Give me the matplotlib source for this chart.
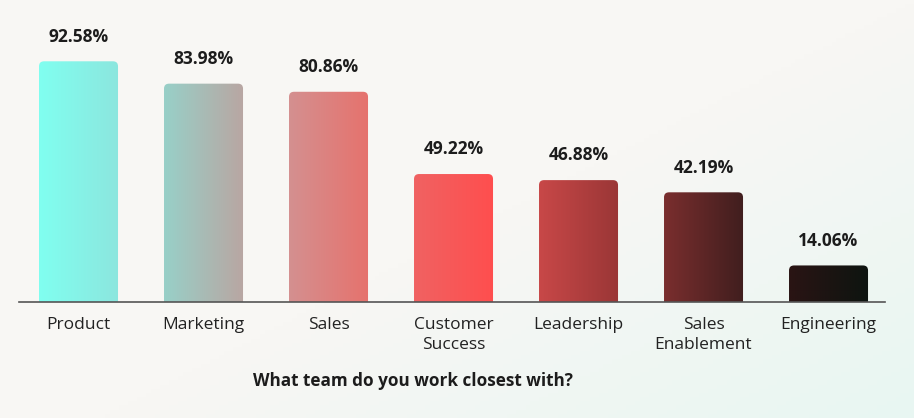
import numpy as np
import matplotlib.pyplot as plt
from matplotlib.patches import FancyBboxPatch
from matplotlib.colors import LinearSegmentedColormap

teams = ["Product", "Marketing", "Sales", "Customer\nSuccess", "Leadership",
         "Sales\nEnablement", "Engineering"]
shares = [92.58, 83.98, 80.86, 49.22, 46.88, 42.19, 14.06]
left_colors = ["#80FFF0", "#98D0C8", "#D49090", "#F06262", "#C84848", "#7A2E2E", "#2A1414"]
right_colors = ["#8CE6DE", "#B9A6A2", "#E6726D", "#FF4E4E", "#9A3636", "#401E1E", "#0D1410"]

plt.rcParams['font.family'] = ['Open Sans', 'DejaVu Sans']

fig = plt.figure(figsize=(9.14, 4.18), dpi=100)

# soft background: off-white with a mint tint in the lower right
bg = fig.add_axes([0, 0, 1, 1], zorder=-10)
gx, gy = np.meshgrid(np.linspace(0, 1, 200), np.linspace(0, 1, 100))
t = np.clip((gx * 0.9 + gy * 0.8) - 0.9, 0, 1) / 0.8
c0 = np.array([248, 247, 244]) / 255
c1 = np.array([232, 246, 242]) / 255
img = c0[None, None, :] * (1 - t[..., None]) + c1[None, None, :] * t[..., None]
bg.imshow(img, extent=[0, 1, 0, 1], aspect='auto', origin='upper')
bg.axis('off')

ax = fig.add_axes([0.0208, 0.2775, 0.9475, 0.622])
ax.patch.set_alpha(0)
x = np.arange(len(teams))
bars = ax.bar(x, shares, width=0.632, color='none')

grad = np.linspace(0, 1, 256).reshape(1, -1)
for i, b in enumerate(bars):
    x0, w, h = b.get_x(), b.get_width(), b.get_height()
    cmap = LinearSegmentedColormap.from_list(f"g{i}", [left_colors[i], right_colors[i]])
    patch = FancyBboxPatch((x0, -5), w, h + 5,
                           boxstyle="round,pad=0,rounding_size=0.04",
                           mutation_aspect=48, facecolor='none', edgecolor='none')
    ax.add_patch(patch)
    im = ax.imshow(grad, cmap=cmap, extent=[x0, x0 + w, -5, h], aspect='auto', zorder=2)
    im.set_clip_path(patch)
    ax.text(b.get_x() + w / 2, h + 9.5, f"{shares[i]:.2f}%", ha='center', va='center',
            fontsize=12.5, fontweight='bold', color='#1c1c1c')

ax.set_xlim(-0.476, 6.452)
ax.set_ylim(0, 100)
ax.set_xticks(x)
ax.set_xticklabels(teams, fontsize=12.5, color='#222222', linespacing=1.35)
ax.tick_params(axis='x', length=0, pad=11)
ax.set_yticks([])
for s in ['top', 'right', 'left']:
    ax.spines[s].set_visible(False)
ax.spines['bottom'].set_color('#555555')
ax.spines['bottom'].set_linewidth(1.2)
ax.spines['bottom'].set_zorder(3)

fig.text(0.452, 0.088, "What team do you work closest with?", ha='center', va='center',
         fontsize=12.3, fontweight='bold', color='#1c1c1c')

fig.savefig("out.png", dpi=100)
